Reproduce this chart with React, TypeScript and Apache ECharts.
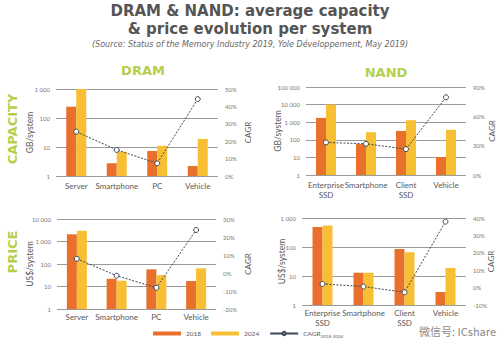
import React, { useEffect, useRef } from 'react';
import * as echarts from 'echarts';

const dramCategories = ['Server', 'Smartphone', 'PC', 'Vehicle'];
const nandCategories = ['Enterprise\nSSD', 'Smartphone', 'Client\nSSD', 'Vehicle'];
const seriesNames = ['2018', '2024', 'CAGR'];

const dramCapacity2018 = [245, 2.75, 7.3, 2.2];
const dramCapacity2024 = [1000, 6.9, 11, 19];
const dramCapacityCagr = [25.5, 15, 7.3, 44.2];

const nandCapacity2018 = [1750, 57, 320, 10.5];
const nandCapacity2024 = [10000, 270, 1300, 370];
const nandCapacityCagr = [33.3, 31.9, 26.5, 79.5];

const dramPrice2018 = [2090, 22, 58, 17.5];
const dramPrice2024 = [3000, 18, 32, 64];
const dramPriceCagr = [7.9, -1.5, -8.2, 23.9];

const nandPrice2018 = [490, 13, 85, 2.8];
const nandPrice2024 = [550, 13, 66, 19];
const nandPriceCagr = [2.1, 0.6, -2.7, 37.9];

const ORANGE = '#E8702C';
const YELLOW = '#F8BF35';
const GREEN = '#B5CF4C';
const LINE = '#3B4756';
const TEXT = '#5a5a5a';
const FONT = 'Lato';

const fmtThousands = (v: number) => String(Math.round(v)).replace(/\B(?=(\d{3})+(?!\d))/g, ' ');

export default function App() {
  const ref = useRef<HTMLDivElement>(null);
  useEffect(() => {
    if (!ref.current) return;
    const chart = echarts.init(ref.current, undefined, { renderer: 'svg' });

    const panels = [
      { cats: dramCategories, d18: dramCapacity2018, d24: dramCapacity2024, cagr: dramCapacityCagr, grid: { left: 56, top: 89, width: 162, height: 87 }, logMax: 1000, rMin: 0, rMax: 50, rInt: 10, unit: 'GB/system', lGap: 22, rGap: 26 },
      { cats: nandCategories, d18: nandCapacity2018, d24: nandCapacity2024, cagr: nandCapacityCagr, grid: { left: 306, top: 87, width: 160, height: 88 }, logMax: 100000, rMin: 0, rMax: 90, rInt: 30, unit: 'GB/system', lGap: 24, rGap: 22 },
      { cats: dramCategories, d18: dramPrice2018, d24: dramPrice2024, cagr: dramPriceCagr, grid: { left: 57, top: 219, width: 159, height: 90 }, logMax: 10000, rMin: -20, rMax: 30, rInt: 10, unit: 'US$/system', lGap: 23, rGap: 28 },
      { cats: nandCategories, d18: nandPrice2018, d24: nandPrice2024, cagr: nandPriceCagr, grid: { left: 302, top: 218, width: 164, height: 87 }, logMax: 1000, rMin: -10, rMax: 40, rInt: 10, unit: 'US$/system', lGap: 16, rGap: 21 },
    ];

    const grids: any[] = [];
    const xAxes: any[] = [];
    const yAxes: any[] = [];
    const series: any[] = [];

    panels.forEach((p, i) => {
      grids.push({ ...p.grid });
      xAxes.push({
        type: 'category', gridIndex: i, data: p.cats,
        axisLine: { show: false }, axisTick: { show: false },
        axisLabel: { color: TEXT, fontSize: 8, fontFamily: FONT, margin: i < 2 ? 5 : 3, lineHeight: 10, interval: 0 },
      });
      yAxes.push({
        type: 'log', logBase: 10, gridIndex: i, min: 1, max: p.logMax,
        name: p.unit, nameLocation: 'middle', nameGap: p.lGap, nameRotate: 90, nameMoveOverlap: false,
        nameTextStyle: { color: TEXT, fontSize: 8.5, fontFamily: FONT },
        axisLine: { show: false }, axisTick: { show: false },
        axisLabel: { color: '#777', fontSize: 6, fontFamily: FONT, margin: 6, formatter: (v: number) => fmtThousands(v) },
        splitLine: { show: true, lineStyle: { color: '#9a9a9a', width: 1 } },
      });
      yAxes.push({
        type: 'value', gridIndex: i, position: 'right', min: p.rMin, max: p.rMax, interval: p.rInt,
        name: 'CAGR', nameLocation: 'middle', nameGap: p.rGap, nameRotate: 90, nameMoveOverlap: false,
        nameTextStyle: { color: TEXT, fontSize: 8, fontFamily: FONT },
        axisLine: { show: false }, axisTick: { show: false },
        axisLabel: { color: '#777', fontSize: 6, fontFamily: FONT, margin: 7, formatter: '{value}%' },
        splitLine: { show: false },
      });
      series.push({
        name: '2018', type: 'bar', xAxisIndex: i, yAxisIndex: 2 * i, data: p.d18,
        barWidth: 10, barGap: '0%', itemStyle: { color: ORANGE },
      });
      series.push({
        name: '2024', type: 'bar', xAxisIndex: i, yAxisIndex: 2 * i, data: p.d24,
        barWidth: 10, barGap: '0%', itemStyle: { color: YELLOW },
      });
      series.push({
        name: 'CAGR', type: 'line', xAxisIndex: i, yAxisIndex: 2 * i + 1, data: p.cagr,
        symbol: 'circle', symbolSize: 5, z: 5,
        lineStyle: { color: LINE, width: 1, type: [2, 1.5] },
        itemStyle: { color: '#ffffff', borderColor: LINE, borderWidth: 1 },
      });
    });

    const option: any = {
      animation: false,
      backgroundColor: '#ffffff',
      grid: grids,
      xAxis: xAxes,
      yAxis: yAxes,
      series,
      legend: {
        data: seriesNames.map((n) => (n === 'CAGR' ? { name: n, itemStyle: { color: '#ffffff', borderColor: LINE }, lineStyle: { type: 'solid', color: LINE } } : { name: n, icon: 'rect' })),
        left: 153, top: 330, padding: 0, itemWidth: 28, itemHeight: 4, itemGap: 10,
        textStyle: {
          color: TEXT, fontSize: 6.5, fontFamily: FONT,
          rich: { sub: { fontSize: 4.5, color: TEXT, fontFamily: FONT, verticalAlign: 'bottom', padding: [5, 0, 0, 0] } },
        },
        formatter: (n: string) => (n === 'CAGR' ? 'CAGR{sub|2018-2024}' : n),
      },
      graphic: [
        { type: 'text', left: 'center', top: 3, style: { text: 'DRAM & NAND: average capacity', fill: '#555', font: 'bold 15px "DejaVu Sans"' } },
        { type: 'text', left: 'center', top: 21, style: { text: '& price evolution per system', fill: '#555', font: 'bold 15px "DejaVu Sans"' } },
        { type: 'text', left: 'center', top: 40, style: { text: '(Source: Status of the Memory Industry 2019, Yole Développement, May 2019)', fill: '#666', font: 'italic 8px "DejaVu Sans"' } },
        { type: 'text', x: 143, y: 70, style: { text: 'DRAM', fill: GREEN, font: 'bold 13px "DejaVu Sans"', align: 'center', verticalAlign: 'middle' } },
        { type: 'text', x: 386, y: 72, style: { text: 'NAND', fill: GREEN, font: 'bold 13px "DejaVu Sans"', align: 'center', verticalAlign: 'middle' } },
        { type: 'text', x: 12, y: 129, rotation: Math.PI / 2, style: { text: 'CAPACITY', fill: GREEN, font: 'bold 13px "DejaVu Sans"', align: 'center', verticalAlign: 'middle' } },
        { type: 'text', x: 12, y: 252, rotation: Math.PI / 2, style: { text: 'PRICE', fill: GREEN, font: 'bold 13px "DejaVu Sans"', align: 'center', verticalAlign: 'middle' } },
        { type: 'text', x: 419, y: 331, style: { text: '微信号: ICshare', fill: '#8a8a8a', font: '11px "Noto Sans CJK SC"', verticalAlign: 'middle' } },
      ],
    };
    chart.setOption(option);
    return () => chart.dispose();
  }, []);
  return <div ref={ref} style={{ position: 'fixed', left: 0, top: 0, width: 500, height: 345 }} />;
}
